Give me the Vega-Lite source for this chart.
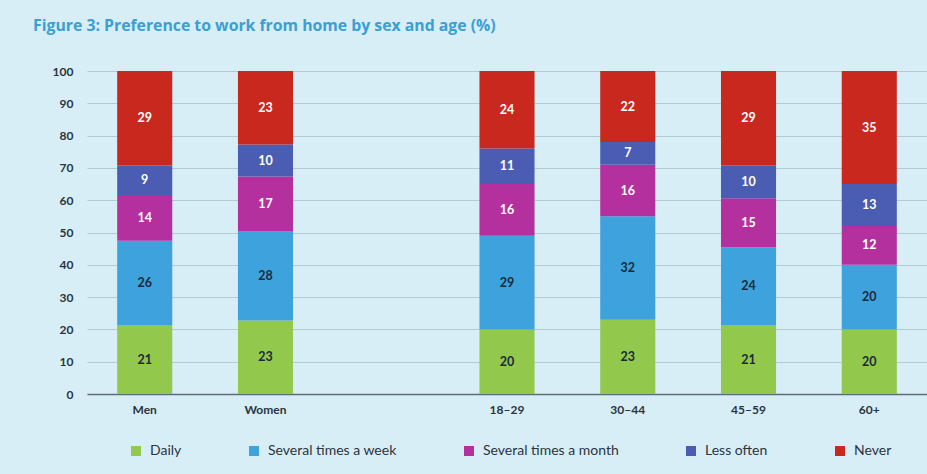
{
  "$schema": "https://vega.github.io/schema/vega-lite/v6.json",
  "width": 840,
  "height": 323,
  "autosize": "none",
  "padding": {"left": 87, "top": 71, "right": 0, "bottom": 80},
  "background": "#d7eef7",
  "title": {
    "text": "Figure 3: Preference to work from home by sex and age (%)",
    "anchor": "start",
    "frame": "group",
    "dx": -54,
    "offset": 30,
    "font": "Open Sans",
    "fontSize": 15.8,
    "fontWeight": "bold",
    "color": "#3a9fd3"
  },
  "config": {
    "view": {"stroke": null},
    "font": "Lato"
  },
  "data": {
    "values": [
      {"group": "Men", "cat": "Daily", "value": 21},
      {"group": "Men", "cat": "Several times a week", "value": 26},
      {"group": "Men", "cat": "Several times a month", "value": 14},
      {"group": "Men", "cat": "Less often", "value": 9},
      {"group": "Men", "cat": "Never", "value": 29},
      {"group": "Women", "cat": "Daily", "value": 23},
      {"group": "Women", "cat": "Several times a week", "value": 28},
      {"group": "Women", "cat": "Several times a month", "value": 17},
      {"group": "Women", "cat": "Less often", "value": 10},
      {"group": "Women", "cat": "Never", "value": 23},
      {"group": "18–29", "cat": "Daily", "value": 20},
      {"group": "18–29", "cat": "Several times a week", "value": 29},
      {"group": "18–29", "cat": "Several times a month", "value": 16},
      {"group": "18–29", "cat": "Less often", "value": 11},
      {"group": "18–29", "cat": "Never", "value": 24},
      {"group": "30–44", "cat": "Daily", "value": 23},
      {"group": "30–44", "cat": "Several times a week", "value": 32},
      {"group": "30–44", "cat": "Several times a month", "value": 16},
      {"group": "30–44", "cat": "Less often", "value": 7},
      {"group": "30–44", "cat": "Never", "value": 22},
      {"group": "45–59", "cat": "Daily", "value": 21},
      {"group": "45–59", "cat": "Several times a week", "value": 24},
      {"group": "45–59", "cat": "Several times a month", "value": 15},
      {"group": "45–59", "cat": "Less often", "value": 10},
      {"group": "45–59", "cat": "Never", "value": 29},
      {"group": "60+", "cat": "Daily", "value": 20},
      {"group": "60+", "cat": "Several times a week", "value": 20},
      {"group": "60+", "cat": "Several times a month", "value": 12},
      {"group": "60+", "cat": "Less often", "value": 13},
      {"group": "60+", "cat": "Never", "value": 35}
    ]
  },
  "transform": [
    {"calculate": "indexof(['Daily','Several times a week','Several times a month','Less often','Never'], datum.cat)", "as": "k"},
    {"stack": "value", "groupby": ["group"], "offset": "normalize", "sort": [{"field": "k", "order": "ascending"}], "as": ["n0", "n1"]},
    {"calculate": "datum.n0 * 100", "as": "v0"},
    {"calculate": "datum.n1 * 100", "as": "v1"},
    {"calculate": "(datum.v0 + datum.v1) / 2", "as": "mid"}
  ],
  "encoding": {
    "x": {
      "field": "group",
      "type": "nominal",
      "scale": {"domain": ["Men", "Women", " ", "18–29", "30–44", "45–59", "60+"], "paddingInner": 0.544, "paddingOuter": 0.25},
      "axis": {
        "title": null,
        "labelAngle": 0,
        "ticks": false,
        "labelPadding": 10,
        "labelFontSize": 12,
        "labelFontWeight": "bold",
        "labelColor": "#2b3440",
        "domainColor": "#5d6c77",
        "domainWidth": 1.5
      }
    }
  },
  "layer": [
    {
      "mark": {"type": "bar"},
      "encoding": {
        "y": {
          "field": "v0",
          "type": "quantitative",
          "scale": {"domain": [0, 100], "nice": false},
          "axis": {
            "title": null,
            "values": [0, 10, 20, 30, 40, 50, 60, 70, 80, 90, 100],
            "labelOverlap": false,
            "ticks": false,
            "domain": false,
            "labelPadding": 14,
            "labelFontSize": 12,
            "labelFontWeight": "bold",
            "labelColor": "#2b3440",
            "gridColor": "#b3c9d3",
            "gridWidth": 1
          }
        },
        "y2": {"field": "v1"},
        "color": {
          "field": "cat",
          "type": "nominal",
          "scale": {
            "domain": ["Daily", "Several times a week", "Several times a month", "Less often", "Never"],
            "range": ["#92c84b", "#3ea2dc", "#b5309f", "#4b5db2", "#c9281f"]
          },
          "legend": {
            "title": null,
            "orient": "none",
            "direction": "horizontal",
            "legendX": 42,
            "legendY": 373,
            "symbolType": "square",
            "symbolSize": 100,
            "symbolStrokeWidth": 0,
            "labelFontSize": 14,
            "labelColor": "#2b3440",
            "labelOffset": 7,
            "columnPadding": 65
          }
        }
      }
    },
    {
      "mark": {"type": "text", "fontSize": 12.5, "fontWeight": "bold"},
      "encoding": {
        "y": {
          "field": "mid",
          "type": "quantitative",
          "axis": {
            "title": null,
            "values": [0, 10, 20, 30, 40, 50, 60, 70, 80, 90, 100],
            "labelOverlap": false,
            "ticks": false,
            "domain": false,
            "labelPadding": 14,
            "labelFontSize": 12,
            "labelFontWeight": "bold",
            "labelColor": "#2b3440",
            "gridColor": "#b3c9d3",
            "gridWidth": 1
          }
        },
        "text": {"field": "value", "type": "quantitative"},
        "color": {
          "condition": {"test": "datum.k <= 1", "value": "#1c2a3a"},
          "value": "#ffffff"
        }
      }
    }
  ]
}
